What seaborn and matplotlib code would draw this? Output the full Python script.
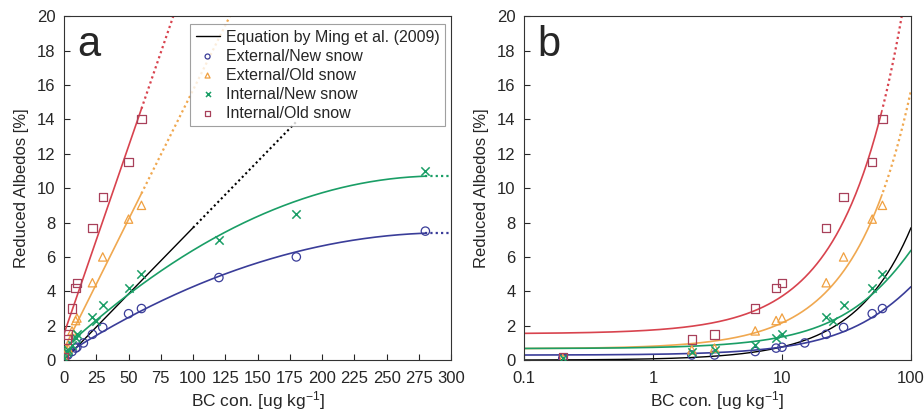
import numpy as np
import matplotlib
matplotlib.use('Agg')
import matplotlib.pyplot as plt
import seaborn as sns

# BC concentration [ug/kg] and reduced albedo [%]
ext_new_x = [0.2, 2, 3, 6.2, 9, 10, 15, 22, 30, 50, 60, 120, 180, 280]
ext_new_y = [0.1, 0.3, 0.3, 0.5, 0.7, 0.75, 1.0, 1.5, 1.9, 2.7, 3.0, 4.8, 6.0, 7.5]
ext_old_x = [0.2, 2, 3, 6.2, 9, 10, 22, 30, 50, 60]
ext_old_y = [0.1, 0.6, 0.7, 1.7, 2.3, 2.45, 4.5, 6.0, 8.2, 9.0]
int_new_x = [0.2, 2, 3, 6.2, 9, 10, 22, 25, 30, 50, 60, 120, 180, 280]
int_new_y = [0.1, 0.5, 0.6, 0.9, 1.3, 1.5, 2.5, 2.3, 3.2, 4.2, 5.0, 7.0, 8.5, 11.0]
int_old_x = [0.2, 2, 3, 6.2, 9, 10, 22, 30, 50, 60]
int_old_y = [0.2, 1.2, 1.5, 3.0, 4.2, 4.5, 7.7, 9.5, 11.5, 14.0]

# Ming et al. (2009) equation, end points of the solid part in panel a
ming_x = [0, 100]
ming_y = [0, 7.7]
ming_dotted_end = 180

xticks_a = [0, 25, 50, 75, 100, 125, 150, 175, 200, 225, 250, 275, 300]
yticks = [0, 2, 4, 6, 8, 10, 12, 14, 16, 18, 20]

# name, x, y, fit order, marker, marker colour, line colour
series = [
    ('External/New snow', ext_new_x, ext_new_y, 2, 'o', '#3a3d99', '#3a3d99'),
    ('External/Old snow', ext_old_x, ext_old_y, 1, '^', '#f0a040', '#f0a850'),
    ('Internal/New snow', int_new_x, int_new_y, 2, 'x', '#1a9e66', '#1a9e66'),
    ('Internal/Old snow', int_old_x, int_old_y, 1, 's', '#a8405a', '#d8434e'),
]

sns.set_style('ticks', {'xtick.direction': 'in', 'ytick.direction': 'in'})
plt.rcParams['font.family'] = ['Liberation Sans', 'DejaVu Sans']
plt.rcParams['mathtext.fontset'] = 'custom'
plt.rcParams['mathtext.rm'] = 'Liberation Sans'
plt.rcParams['mathtext.it'] = 'Liberation Sans'

fig = plt.figure(figsize=(9.24, 4.13), dpi=100)
ax_a = fig.add_axes([0.0693, 0.128, 0.419, 0.833])
ax_b = fig.add_axes([0.567, 0.128, 0.419, 0.833])

dots = (0, (1, 1.4))
ming_fit = np.polyfit(ming_x, ming_y, 1)


def draw_panel(ax, log):
    if log:
        grid = np.geomspace(0.1, 100, 400)
    else:
        grid = np.linspace(0, 300, 601)

    # Ming et al. line
    solid = grid[grid <= ming_x[1]]
    ax.plot(solid, np.polyval(ming_fit, solid), color='black', lw=1.0,
            label='Equation by Ming et al. (2009)')
    if not log:
        ext = grid[(grid >= ming_x[1]) & (grid <= ming_dotted_end)]
        ax.plot(ext, np.polyval(ming_fit, ext), color='black', lw=1.5, ls=dots)

    for name, x, y, order, marker, mc, lc in series:
        coef = np.polyfit(x, y, order)
        xmax = max(x)
        solid = grid[grid <= xmax]
        ax.plot(solid, np.polyval(coef, solid), color=lc, lw=1.2)
        ext = grid[grid >= xmax]
        if order == 1:
            ax.plot(ext, np.polyval(coef, ext), color=lc, lw=1.6, ls=dots)
        elif len(ext) > 0:
            ax.plot(ext, np.full(len(ext), np.polyval(coef, xmax)), color=lc, lw=1.6, ls=dots)

        if marker == 'x':
            sns.scatterplot(x=x, y=y, ax=ax, marker='x', color=mc, s=36,
                            linewidth=1.1, label=name, zorder=3)
        else:
            sns.scatterplot(x=x, y=y, ax=ax, marker=marker, s=36, facecolors='none',
                            edgecolor=mc, linewidth=0.9, label=name, zorder=3)

    if log:
        ax.set_xscale('log')
        ax.set_xlim(0.1, 100)
        ax.set_xticks([0.1, 1, 10, 100])
        ax.set_xticklabels(['0.1', '1', '10', '100'])
        ax.minorticks_off()
    else:
        ax.set_xlim(0, 300)
        ax.set_xticks(xticks_a)
    ax.set_ylim(0, 20)
    ax.set_yticks(yticks)
    ax.tick_params(labelsize=12, length=4.5, width=0.8, top=False, right=False)
    ax.tick_params(axis='x', pad=8)
    ax.tick_params(axis='y', pad=6)
    ax.set_xlabel(r'BC con. [ug kg$^{-1}$]', fontsize=12.5, labelpad=2)
    ax.set_ylabel('Reduced Albedos [%]', fontsize=12, labelpad=6)
    for sp in ax.spines.values():
        sp.set_visible(True)
        sp.set_linewidth(0.8)
        sp.set_color('#333333')


draw_panel(ax_a, log=False)
draw_panel(ax_b, log=True)

ax_b.get_legend().remove()
handles, labels = ax_a.get_legend_handles_labels()
order = [labels.index('Equation by Ming et al. (2009)')] + \
        [labels.index(s[0]) for s in series]
leg = ax_a.legend([handles[i] for i in order], [labels[i] for i in order],
                  loc='upper right', bbox_to_anchor=(0.993, 0.986), fontsize=11.5,
                  frameon=True, fancybox=False, edgecolor='#888888', markerscale=0.6,
                  handlelength=1.5, handletextpad=0.4, labelspacing=0.25,
                  borderpad=0.35, borderaxespad=0.2)
leg.get_frame().set_linewidth(0.8)

ax_a.text(0.035, 0.975, 'a', transform=ax_a.transAxes, fontsize=30, va='top')
ax_b.text(0.035, 0.975, 'b', transform=ax_b.transAxes, fontsize=30, va='top')

fig.savefig('out.png', dpi=100)
